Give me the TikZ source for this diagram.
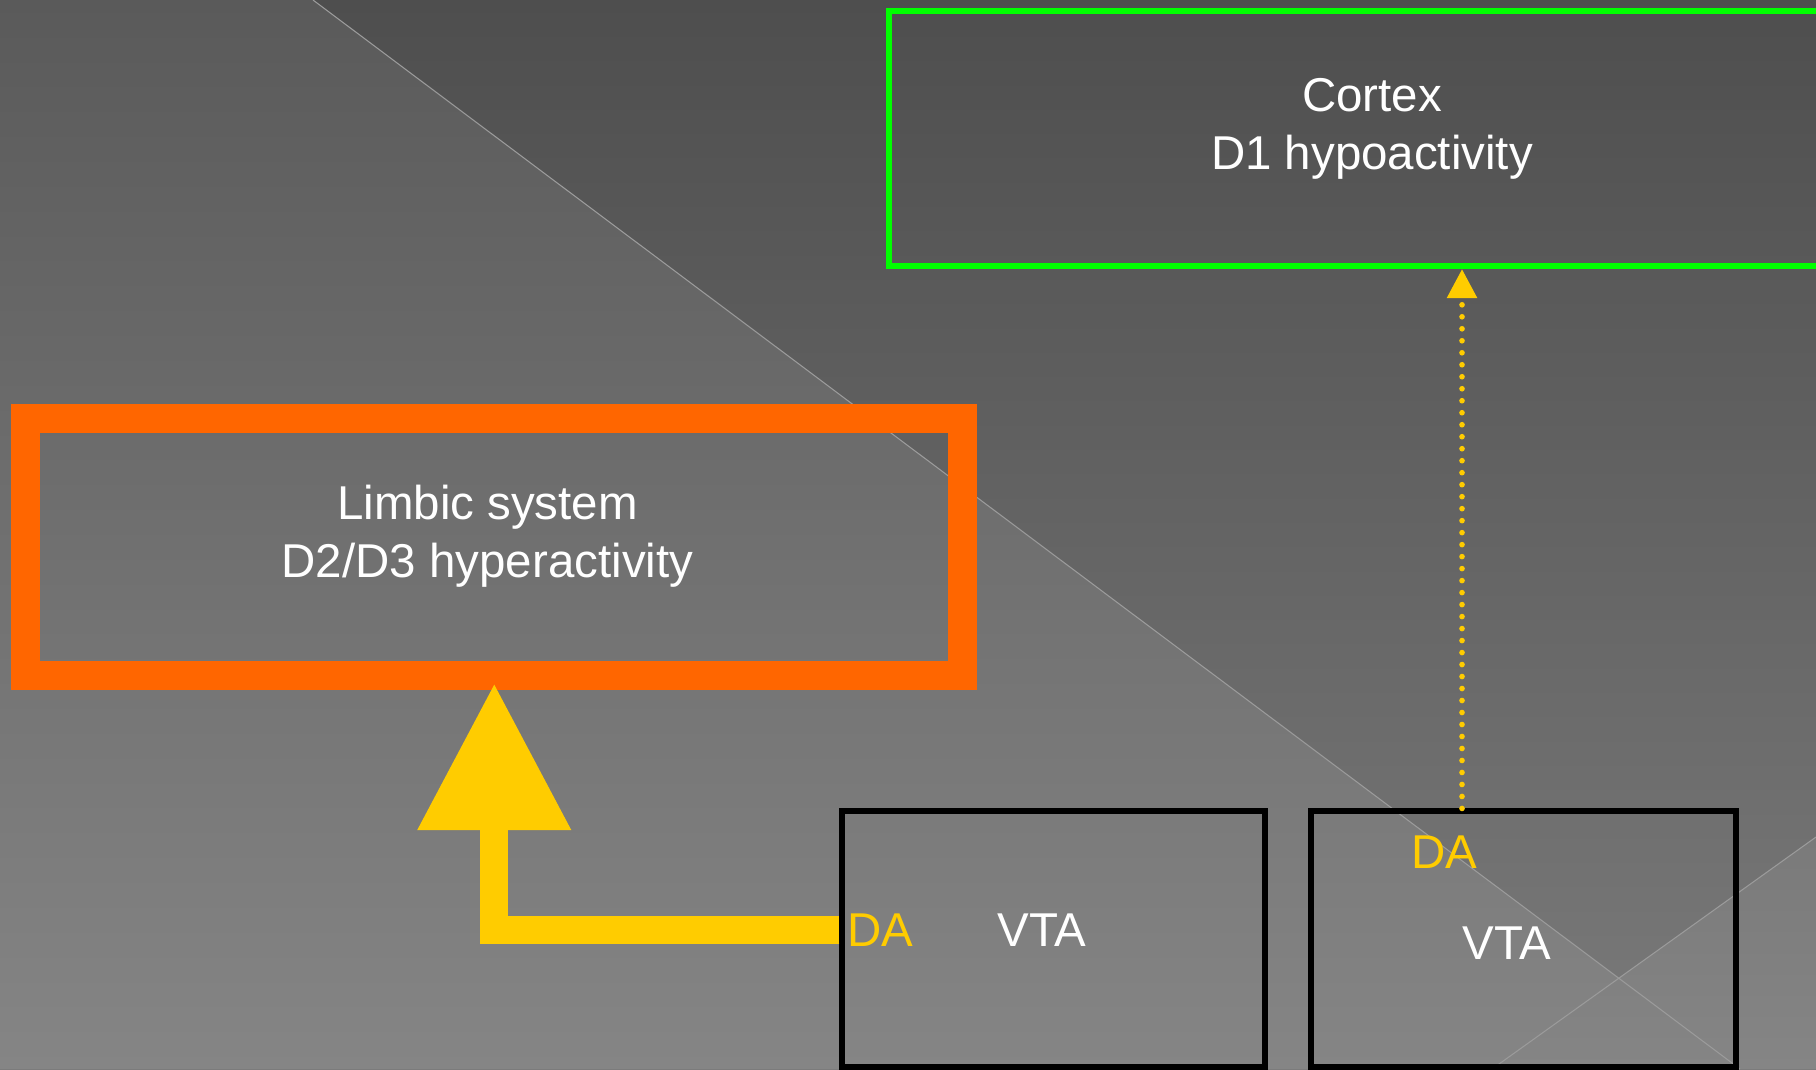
\documentclass[tikz,border=0pt]{standalone}
\usepackage{fontspec}
\setmainfont{Liberation Sans}
\usetikzlibrary{arrows.meta}
\definecolor{bgtop}{RGB}{78,78,78}
\definecolor{bgbot}{RGB}{122,122,122}
\definecolor{lefttop}{RGB}{90,90,90}
\definecolor{leftbot}{RGB}{133,133,133}
\definecolor{cornertop}{RGB}{122,122,122}
\definecolor{bgline}{RGB}{155,155,155}
\definecolor{limbicorange}{RGB}{255,102,0}
\definecolor{cortexgreen}{RGB}{0,255,0}
\definecolor{dayellow}{RGB}{255,204,0}

\begin{document}
\begin{tikzpicture}
            [x=0.01cm, y=-0.01cm,
             every node/.style={inner sep=0pt},
             cortexbox/.style={rectangle, draw=cortexgreen, line width=1.7pt},
             limbicbox/.style={rectangle, draw=limbicorange, line width=8.25pt},
             vtabox/.style={rectangle, draw=black, line width=1.7pt},
             boxtext/.style={text=white, align=center, font=\fontsize{13.5}{16.5}\selectfont},
             datext/.style={text=dayellow, anchor=base, font=\fontsize{13.5}{16.5}\selectfont},
             bigarrow/.style={draw=dayellow, line width=7.97pt, shorten >=-2pt, -{Triangle[length=41.8pt, width=41.5pt]}},
             dotarrow/.style={draw=dayellow, line width=1.6pt, line cap=round, dash pattern=on 0pt off 3.41pt, -{Triangle[length=8.25pt, width=8.25pt]}}]
                \useasboundingbox (0,0) rectangle (1816,1069);
                \shade [top color=bgtop, bottom color=bgbot] (0,0) rectangle (1816,1069);
                \shade [top color=lefttop, bottom color=leftbot] (0,0) -- (313,0) -- (1740,1069) -- (0,1069) -- cycle;
                \shade [top color=cornertop, bottom color=leftbot] (1492,1069) -- (1816,837) -- (1816,1069) -- cycle;
                \draw [bgline, line width=0.3pt] (313,0) -- (1740,1069) (1492,1069) -- (1816,837);
                \node (cortex) [cortexbox, minimum width=9.655cm, minimum height=2.55cm] at (1372,138.5) {};
                \node (limbic) [limbicbox, minimum width=9.365cm, minimum height=2.57cm] at (494.25,547) {};
                \node (vta1) [vtabox, minimum width=4.22cm, minimum height=2.555cm] at (1053.5,939.25) {};
                \node (vta2) [vtabox, minimum width=4.24cm, minimum height=2.555cm] at (1523.5,939.25) {};
                \node (cortextext) [boxtext] at (1372,128.7) {Cortex\\D1 hypoactivity};
                \node (limbictext) [boxtext] at (487.5,536.2) {Limbic system\\D2/D3 hyperactivity};
                \node (da1) [datext] at (880,946) {DA};
                \node (vta1text) [boxtext, anchor=base] at (1042,946) {VTA};
                \node (da2) [datext] at (1444,868) {DA};
                \node (vta2text) [boxtext, anchor=base] at (1507,959) {VTA};
                \coordinate (dx) at (1462,0);
                \draw [bigarrow] (vta1.west |- da1) -| (limbic.south);
                \draw [dotarrow] (vta2.north -| dx) -- (cortex.south -| dx);
            \end{tikzpicture}
\end{document}
